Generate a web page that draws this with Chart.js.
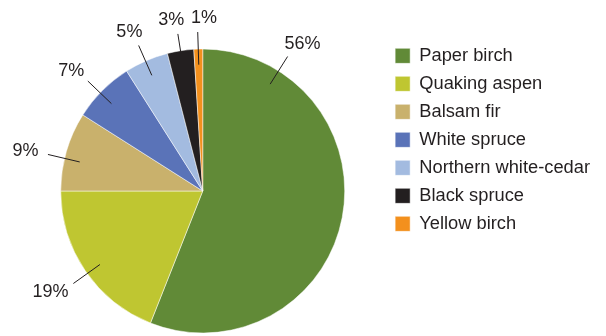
<html>
<head>
<meta charset="utf-8">
<title>Tree species share</title>
<script src="https://cdn.jsdelivr.net/npm/chart.js@4.4.1/dist/chart.umd.min.js"></script>
<style>
  body { margin: 0; background: #fff; }
  #wrap { width: 606px; height: 336px; position: relative; }
</style>
</head>
<body>
<div id="wrap"><canvas id="species_chart"></canvas></div>

<script>
  // species and their share of the stand (%)
  var species = ['Paper birch', 'Quaking aspen', 'Balsam fir', 'White spruce',
                 'Northern white-cedar', 'Black spruce', 'Yellow birch']
  var share = [56, 19, 9, 7, 5, 3, 1]
  var colours = ['#618a37', '#bfc631', '#c9b16c', '#5a73b8', '#a3bbe0', '#231f20', '#f3901d']

  // where along each slice the callout leaves the pie (0 = start, 1 = end)
  var calloutAt = [0.16, 0.48, 0.41, 0.45, 0.48, 0.5, 0.5]
  // sideways nudge for the two crowded labels at the top
  var labelShift = [0, 0, 0, 0, 0, -3, 7]

  var labelFont = '18px "Liberation Sans", Arial, sans-serif'
  var ink = '#231f20'

  // percentage callouts with short leader lines outside the pie
  var callouts = {
    id: 'callouts',
    afterDatasetsDraw(chart) {
      var ctx = chart.ctx
      var arcs = chart.getDatasetMeta(0).data
      ctx.save()
      ctx.font = labelFont
      ctx.fillStyle = ink
      ctx.strokeStyle = ink
      ctx.lineWidth = 1
      ctx.textAlign = 'center'
      ctx.textBaseline = 'middle'
      arcs.forEach(function (arc, i) {
        var p = arc.getProps(['x', 'y', 'startAngle', 'endAngle', 'outerRadius'], true)
        var a = p.startAngle + (p.endAngle - p.startAngle) * calloutAt[i]
        var c = Math.cos(a), s = Math.sin(a)
        var r0 = p.outerRadius * 0.89, r1 = p.outerRadius * 1.12
        var x1 = p.x + c * r1, y1 = p.y + s * r1
        ctx.beginPath()
        ctx.moveTo(p.x + c * r0, p.y + s * r0)
        ctx.lineTo(x1, y1)
        ctx.stroke()
        var txt = share[i] + '%'
        var hw = ctx.measureText(txt).width / 2, hh = 6.5
        ctx.fillText(txt, x1 + c * (hw + 10) + labelShift[i], y1 + s * (hh + 8))
      })
      ctx.restore()
    }
  }

  // lift the legend block so it sits near the top of the pie
  var legendLift = {
    id: 'legendLift',
    afterLayout(chart) {
      chart.legend.top -= 9
      chart.legend.bottom -= 9
    }
  }

  var ctx = document.getElementById('species_chart').getContext('2d')
  var chart = new Chart(ctx, {
    type: 'pie',
    data: {
      labels: species,
      datasets: [{
        data: share,
        backgroundColor: colours,
        borderColor: '#ffffff',
        borderWidth: 0.5
      }]
    },
    options: {
      animation: false,
      responsive: true,
      maintainAspectRatio: false,
      radius: 142,
      layout: { padding: { left: 20, right: 6, top: 46, bottom: 0 } },
      plugins: {
        tooltip: { enabled: false },
        legend: {
          position: 'right',
          align: 'start',
          labels: {
            boxWidth: 15,
            boxHeight: 15,
            padding: 9.7,
            color: ink,
            font: { family: '"Liberation Sans", Arial, sans-serif', size: 18.3 }
          }
        }
      }
    },
    plugins: [callouts, legendLift]
  })
</script>
</body>
</html>
